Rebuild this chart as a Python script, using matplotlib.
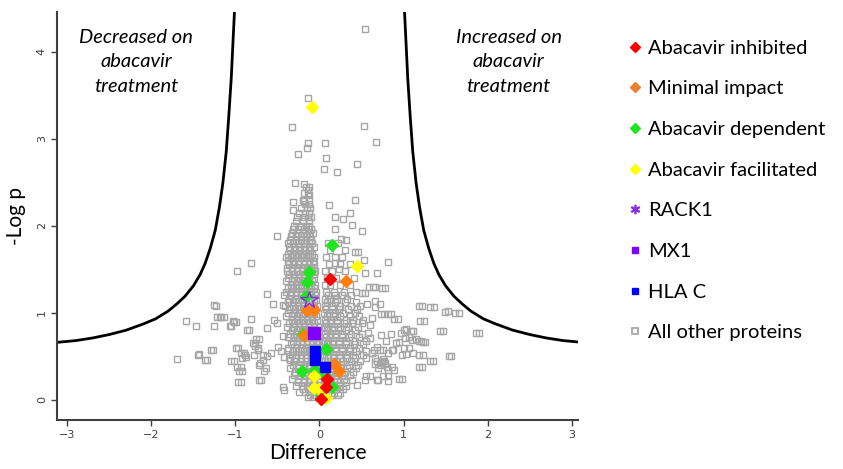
import matplotlib
matplotlib.use("Agg")
import matplotlib.pyplot as plt
from matplotlib.lines import Line2D

# significance threshold curve (|difference|, -log p)
curve_abs_x = [3.12, 2.90, 2.70, 2.50, 2.30, 2.10, 1.95, 1.80, 1.70, 1.60, 1.50,
               1.42, 1.36, 1.30, 1.24, 1.19, 1.15, 1.11, 1.08, 1.05, 1.03, 1.01]
curve_y = [0.66, 0.68, 0.71, 0.75, 0.80, 0.87, 0.93, 1.02, 1.10, 1.19, 1.31,
           1.44, 1.57, 1.74, 1.95, 2.22, 2.49, 2.85, 3.25, 3.70, 4.10, 4.50]

# highlighted proteins
inhibited_x = [0.13, 0.08, 0.02, 0.09]
inhibited_y = [1.39, 0.15, 0.01, 0.24]
minimal_x = [0.32, -0.15, -0.07, -0.18, 0.17, 0.23]
minimal_y = [1.37, 1.03, 1.03, 0.74, 0.41, 0.33]
dependent_x = [0.15, -0.13, -0.15, -0.16, -0.20, 0.08, -0.21, -0.05, 0.15, 0.07, 0.02]
dependent_y = [1.78, 1.47, 1.35, 1.19, 0.75, 0.58, 0.33, 0.34, 0.15, 0.28, 0.07]
facilitated_x = [-0.09, 0.45, -0.06, -0.06, 0.00, 0.08]
facilitated_y = [3.36, 1.54, 0.27, 0.13, 0.12, 0.02]
rack1_x, rack1_y = [-0.12], [1.15]
mx1_x, mx1_y = [-0.07], [0.77]
hlac_x = [-0.05, -0.05, 0.06]
hlac_y = [0.56, 0.46, 0.38]

# all other proteins: scattered ones
sparse_x = [0.54, -0.14, -0.33, 0.53, 0.67, -0.14, 0.07, -0.15, -0.25, 0.08, 0.45, 0.05,
            0.21, -0.29, -0.18, -0.14, -0.13, 0.11, 0.42, -0.32, -0.18, -0.32, 0.36, 0.18,
            0.28, 0.39, 0.50, 0.18, -0.51, 0.26, 0.32, 0.42, 0.46, 0.53, 0.82, 0.54, 0.68,
            -0.98, -0.82, 0.19, 0.23, 0.66, 0.74, 0.59, 0.50, -0.62, -0.55, -0.44, -1.25,
            1.18, 1.32, 1.49, 1.61, 1.86, 1.20, 0.89, 0.81, 0.73, -1.59, -1.47, -1.25,
            -1.22, -1.17, -1.03, -1.02, -1.07, -0.82, -0.86, -0.54, 1.43, 1.00, 1.09, 1.02,
            0.91, 0.73, 1.10, 1.18, 1.23, 1.00, 0.86, 0.75, 1.54, 1.31, 1.18, 1.18, 0.95,
            -1.70, -1.45, -1.36, -1.29, -1.05, -0.99, -0.93, -0.92, -0.79, -0.75, -0.78,
            -0.67, -0.62, -0.58, -0.46, -0.67, -0.71, -0.64, -0.98, -0.96, -0.97, -0.72,
            -0.37, -0.42, -0.35, -0.44, -0.42, 0.55, 0.39, 0.45, 0.68, 0.82, 0.66, 0.73,
            0.77, 0.86, 0.82, 0.62, 0.55, -0.49, -0.44, -0.62, -0.51, -1.23, -1.18, -1.14,
            -1.05, -0.99, -0.84, -0.72, -0.77, -0.77, -0.73, -0.73, -1.43, -1.34, -1.27,
            -0.97, -0.90, -0.89, -1.02, -0.88, -0.94, -0.92, -0.94, -0.72, -0.70, -0.66,
            0.64, 0.78, 0.54, 0.66, 0.72, 0.66, 0.56, 1.22, 1.36, 1.53, 1.66, 0.77, 0.85,
            0.63, 0.93, 1.24, 1.47, 1.90, 0.60, 0.58, 0.60, 0.85, 0.95, 0.97, 1.03, 1.11,
            1.07, 1.15, 1.21, 1.26, 0.79, 0.69, 0.65, 0.72, 0.87, 0.81, 1.07, 1.11, 1.03,
            0.98, 1.23, 1.57, 1.35, 1.22, 0.89, 0.60, 0.54, 0.70, 0.76, 0.81, 0.98,
            0.68, 0.72, 0.75, 0.78, 0.70, 0.80, 0.74, 0.66]
sparse_y = [4.26, 3.47, 3.14, 3.15, 2.96, 2.95, 2.95, 2.89, 2.83, 2.78, 2.71, 2.65,
            2.62, 2.49, 2.48, 2.41, 2.35, 2.24, 2.30, 2.27, 2.28, 2.18, 2.15, 2.10,
            2.08, 2.01, 1.94, 1.96, 1.88, 1.85, 1.84, 1.70, 1.70, 1.61, 1.58, 1.46, 1.46,
            1.48, 1.57, 1.57, 1.50, 1.30, 1.28, 1.30, 1.23, 1.21, 1.10, 1.09, 1.09,
            1.08, 1.07, 1.01, 1.00, 0.77, 0.91, 0.93, 0.99, 0.99, 0.90, 0.85, 0.85,
            0.95, 0.95, 0.91, 0.89, 0.85, 0.93, 0.80, 0.92, 0.79, 0.80, 0.79, 0.71,
            0.65, 0.74, 0.69, 0.67, 0.66, 0.59, 0.57, 0.57, 0.50, 0.44, 0.51, 0.38, 0.24,
            0.47, 0.52, 0.46, 0.57, 0.45, 0.59, 0.54, 0.48, 0.65, 0.70, 0.52,
            0.52, 0.50, 0.54, 0.56, 0.46, 0.42, 0.36, 0.38, 0.33, 0.20, 0.23,
            0.57, 0.49, 0.46, 0.15, 0.11, 0.27, 0.23, 0.17, 0.23, 0.27, 0.48, 0.42,
            0.44, 0.38, 0.34, 0.54, 0.56, 0.61, 0.73, 0.82, 0.88, 1.08, 0.95, 0.95,
            0.85, 0.89, 0.80, 0.70, 0.65, 0.62, 0.59, 0.57, 0.53, 0.46, 0.57,
            0.60, 0.54, 0.52, 0.45, 0.49, 0.38, 0.33, 0.20, 0.40, 0.23, 0.33,
            1.30, 1.28, 1.23, 1.14, 1.10, 1.07, 1.10, 1.08, 1.07, 1.02, 1.00, 0.99, 0.99,
            0.94, 0.93, 0.91, 0.79, 0.77, 0.86, 0.77, 0.71, 0.75, 0.66, 0.77, 0.81, 0.79,
            0.72, 0.70, 0.68, 0.66, 0.68, 0.61, 0.57, 0.57, 0.57, 0.54, 0.60, 0.54, 0.53,
            0.51, 0.51, 0.50, 0.44, 0.38, 0.34, 0.27, 0.23, 0.23, 0.27, 0.22, 0.24,
            0.45, 0.40, 0.47, 0.42, 0.37, 0.38, 0.43, 0.41]

# all other proteins: the two dense arms, row by row (-log p, differences)
left_arm = [
    (2.45, [-0.16, -0.12]),
    (2.38, [-0.18, -0.14]),
    (2.30, [-0.20, -0.13]),
    (2.25, [-0.17, -0.12]),
    (2.20, [-0.22, -0.15, -0.11]),
    (2.15, [-0.24, -0.17, -0.12]),
    (2.10, [-0.27, -0.19, -0.14, -0.10]),
    (2.05, [-0.28, -0.20, -0.13]),
    (2.00, [-0.30, -0.22, -0.16, -0.12]),
    (1.96, [-0.31, -0.25, -0.19, -0.14, -0.10]),
    (1.92, [-0.33, -0.25, -0.19, -0.13, -0.08]),
    (1.88, [-0.34, -0.28, -0.22, -0.16, -0.11]),
    (1.84, [-0.35, -0.28, -0.22, -0.16, -0.10]),
    (1.80, [-0.37, -0.31, -0.25, -0.19, -0.13, -0.09]),
    (1.76, [-0.36, -0.30, -0.24, -0.18, -0.12, -0.07]),
    (1.72, [-0.35, -0.29, -0.23, -0.17, -0.11]),
    (1.68, [-0.38, -0.32, -0.26, -0.20, -0.14, -0.09]),
    (1.64, [-0.40, -0.34, -0.28, -0.22, -0.16, -0.11, -0.06]),
    (1.60, [-0.37, -0.31, -0.25, -0.19, -0.13, -0.08]),
    (1.56, [-0.36, -0.30, -0.24, -0.18, -0.12, -0.07]),
    (1.52, [-0.39, -0.33, -0.27, -0.21, -0.15, -0.10, -0.06]),
    (1.48, [-0.39, -0.33, -0.27, -0.21, -0.15, -0.09, -0.05]),
    (1.44, [-0.36, -0.30, -0.24, -0.18, -0.12, -0.07]),
    (1.40, [-0.37, -0.30, -0.24, -0.18, -0.12, -0.06]),
    (1.36, [-0.40, -0.33, -0.27, -0.21, -0.15, -0.09]),
    (1.32, [-0.34, -0.28, -0.22, -0.16, -0.10, -0.05]),
    (1.28, [-0.37, -0.31, -0.25, -0.19, -0.13, -0.07]),
    (1.24, [-0.40, -0.34, -0.28, -0.22, -0.16, -0.10, -0.04]),
    (1.20, [-0.42, -0.34, -0.28, -0.22, -0.16, -0.10, -0.05]),
    (1.16, [-0.36, -0.28, -0.22, -0.16, -0.10, -0.04]),
    (1.12, [-0.38, -0.31, -0.25, -0.19, -0.13, -0.07]),
    (1.08, [-0.41, -0.32, -0.26, -0.20, -0.14, -0.08, -0.03]),
    (1.04, [-0.35, -0.29, -0.23, -0.17, -0.11, -0.05]),
    (1.00, [-0.37, -0.30, -0.24, -0.18, -0.12, -0.06]),
    (0.96, [-0.40, -0.33, -0.27, -0.21, -0.15, -0.09, -0.04]),
    (0.92, [-0.33, -0.27, -0.21, -0.15, -0.09, -0.03]),
    (0.88, [-0.36, -0.30, -0.24, -0.18, -0.12, -0.06]),
    (0.84, [-0.39, -0.30, -0.24, -0.18, -0.12, -0.06, -0.01]),
    (0.80, [-0.33, -0.27, -0.21, -0.15, -0.09, -0.03]),
    (0.76, [-0.35, -0.27, -0.21, -0.15, -0.09, -0.03]),
    (0.72, [-0.38, -0.30, -0.24, -0.18, -0.12, -0.06, -0.01]),
    (0.68, [-0.32, -0.27, -0.21, -0.15, -0.09, -0.04, 0.00]),
    (0.64, [-0.34, -0.27, -0.21, -0.15, -0.09, -0.03]),
    (0.60, [-0.37, -0.28, -0.22, -0.16, -0.10, -0.04]),
    (0.56, [-0.31, -0.25, -0.19, -0.13, -0.07, -0.01]),
    (0.52, [-0.33, -0.28, -0.22, -0.16, -0.10, -0.04, 0.01]),
    (0.48, [-0.36, -0.28, -0.22, -0.16, -0.10, -0.04]),
    (0.44, [-0.30, -0.22, -0.16, -0.10, -0.04, 0.02]),
    (0.40, [-0.32, -0.25, -0.19, -0.13, -0.07, -0.01, 0.04]),
    (0.36, [-0.35, -0.26, -0.19, -0.13, -0.07, -0.01, 0.05]),
    (0.32, [-0.29, -0.22, -0.16, -0.10, -0.04, 0.02]),
    (0.28, [-0.30, -0.23, -0.16, -0.10, -0.04, 0.02]),
    (0.24, [-0.33, -0.26, -0.19, -0.13, -0.07, -0.01, 0.05]),
    (0.20, [-0.25, -0.18, -0.12, -0.06, 0.00, 0.06]),
    (0.16, [-0.28, -0.21, -0.15, -0.09, -0.03, 0.03]),
    (0.12, [-0.20, -0.14, -0.08, -0.02, 0.04]),
    (0.09, [-0.24, -0.17, -0.11, -0.05, 0.01, 0.07]),
    (0.06, [-0.11, -0.05, 0.01, 0.07]),
    (0.03, [-0.14, -0.08, -0.02, 0.04]),
]
right_arm = [
    (1.80, [0.10, 0.22]),
    (1.72, [0.13, 0.30]),
    (1.64, [0.08, 0.18, 0.27]),
    (1.56, [0.11, 0.24, 0.36]),
    (1.48, [0.07, 0.15, 0.30]),
    (1.40, [0.09, 0.20, 0.41]),
    (1.32, [0.06, 0.13, 0.25, 0.36]),
    (1.24, [0.08, 0.17, 0.29, 0.44]),
    (1.20, [0.10, 0.19, 0.27, 0.38]),
    (1.16, [0.06, 0.12, 0.21, 0.33]),
    (1.12, [0.09, 0.18, 0.30, 0.43]),
    (1.08, [0.07, 0.15, 0.25, 0.38, 0.48]),
    (1.04, [0.08, 0.15, 0.23, 0.34, 0.45]),
    (1.00, [0.05, 0.11, 0.19, 0.28, 0.42]),
    (0.96, [0.09, 0.16, 0.25, 0.36, 0.47]),
    (0.92, [0.06, 0.13, 0.21, 0.31, 0.40, 0.52]),
    (0.88, [0.08, 0.14, 0.21, 0.29, 0.39, 0.50]),
    (0.84, [0.05, 0.10, 0.17, 0.25, 0.34, 0.46]),
    (0.80, [0.09, 0.15, 0.22, 0.31, 0.42]),
    (0.76, [0.06, 0.12, 0.19, 0.27, 0.37, 0.50]),
    (0.72, [0.08, 0.13, 0.20, 0.27, 0.35, 0.47]),
    (0.68, [0.05, 0.10, 0.16, 0.23, 0.31, 0.42, 0.55]),
    (0.64, [0.09, 0.15, 0.23, 0.31, 0.41, 0.52]),
    (0.60, [0.06, 0.12, 0.19, 0.27, 0.36, 0.47]),
    (0.56, [0.08, 0.13, 0.20, 0.27, 0.35, 0.44]),
    (0.52, [0.05, 0.10, 0.16, 0.23, 0.31, 0.40, 0.52]),
    (0.48, [0.10, 0.16, 0.24, 0.33, 0.42, 0.55]),
    (0.44, [0.07, 0.13, 0.20, 0.28, 0.37, 0.48]),
    (0.40, [0.11, 0.18, 0.26, 0.35, 0.46]),
    (0.36, [0.09, 0.16, 0.24, 0.33, 0.43]),
    (0.32, [0.14, 0.22, 0.30, 0.40]),
    (0.28, [0.12, 0.19, 0.27, 0.36]),
    (0.24, [0.13, 0.21, 0.29]),
    (0.20, [0.10, 0.17, 0.24, 0.32]),
    (0.16, [0.15, 0.23, 0.31]),
    (0.12, [0.12, 0.20, 0.28]),
    (0.08, [0.17, 0.25]),
    (0.05, [0.14, 0.22]),
]

grey_x = list(sparse_x)
grey_y = list(sparse_y)
for yv, xs in left_arm + right_arm:
    grey_x += xs
    grey_y += [yv] * len(xs)

GREY = "#a6a6a6"
FONT = "Lato"

fig = plt.figure(figsize=(8.43, 4.69), dpi=100)
ax = fig.add_axes([0.068, 0.105, 0.618, 0.87])

ax.plot(curve_abs_x, curve_y, color="black", lw=2)
ax.plot([-v for v in curve_abs_x], curve_y, color="black", lw=2)

ax.plot(grey_x, grey_y, ls="none", marker="s", ms=4.3, mfc="none",
        mec=GREY, mew=1.0)
ax.plot(dependent_x, dependent_y, ls="none", marker="D", ms=6.5, color="#1ee61e")
ax.plot(minimal_x, minimal_y, ls="none", marker="D", ms=6.5, color="#ff7f0e")
ax.plot(facilitated_x, facilitated_y, ls="none", marker="D", ms=6.5, color="#ffff00")
ax.plot(inhibited_x, inhibited_y, ls="none", marker="D", ms=6.5, color="#ff0000")
ax.plot(hlac_x, hlac_y, ls="none", marker="s", ms=7, color="#0000ff")
ax.plot(mx1_x, mx1_y, ls="none", marker="s", ms=9, color="#8000ff")
ax.plot(rack1_x, rack1_y, ls="none", marker="*", ms=13, color="#8a2be2",
        mfc="none", mew=1.0)

ax.set_xlim(-3.12, 3.08)
ax.set_ylim(-0.23, 4.46)
ax.set_xticks([-3, -2, -1, 0, 1, 2, 3])
ax.set_yticks([0, 1, 2, 3, 4])
ax.spines["top"].set_visible(False)
ax.spines["right"].set_visible(False)
for s in ("left", "bottom"):
    ax.spines[s].set_linewidth(1.5)
    ax.spines[s].set_color("#404040")
ax.tick_params(length=4, width=1, colors="#404040", labelsize=8)
ax.tick_params(axis="y", labelrotation=90)
for lab in ax.get_yticklabels():
    lab.set_va("center")

ax.set_xlabel("Difference", fontsize=15, family=FONT, labelpad=2)
ax.set_ylabel("-Log p", fontsize=15, family=FONT, labelpad=8)

ax.text(-2.18, 3.885, "Decreased on\nabacavir\ntreatment", ha="center", va="center",
        style="italic", fontsize=14.5, family=FONT, linespacing=1.55)
ax.text(2.25, 3.885, "Increased on\nabacavir\ntreatment", ha="center", va="center",
        style="italic", fontsize=14.5, family=FONT, linespacing=1.55)

handles = [
    Line2D([], [], ls="none", marker="D", ms=5, color="#ff0000"),
    Line2D([], [], ls="none", marker="D", ms=5, color="#ed7d31"),
    Line2D([], [], ls="none", marker="D", ms=5, color="#1ee61e"),
    Line2D([], [], ls="none", marker="D", ms=5, color="#ffff00"),
    Line2D([], [], ls="none", marker="$*$", ms=6, color="#8a2be2"),
    Line2D([], [], ls="none", marker="s", ms=5, color="#8000ff"),
    Line2D([], [], ls="none", marker="s", ms=5, color="#0000ff"),
    Line2D([], [], ls="none", marker="s", ms=5, mfc="white", mec=GREY, mew=1.3),
]
labels = ["Abacavir inhibited", "Minimal impact", "Abacavir dependent",
          "Abacavir facilitated", "RACK1", "MX1", "HLA C", "All other proteins"]
fig.legend(handles, labels, loc="upper left", bbox_to_anchor=(0.7245, 0.954),
           frameon=False, prop={"family": FONT, "size": 14.5}, labelspacing=1.17,
           handlelength=0.6, handletextpad=0.35)

fig.savefig("out.png", dpi=100)
